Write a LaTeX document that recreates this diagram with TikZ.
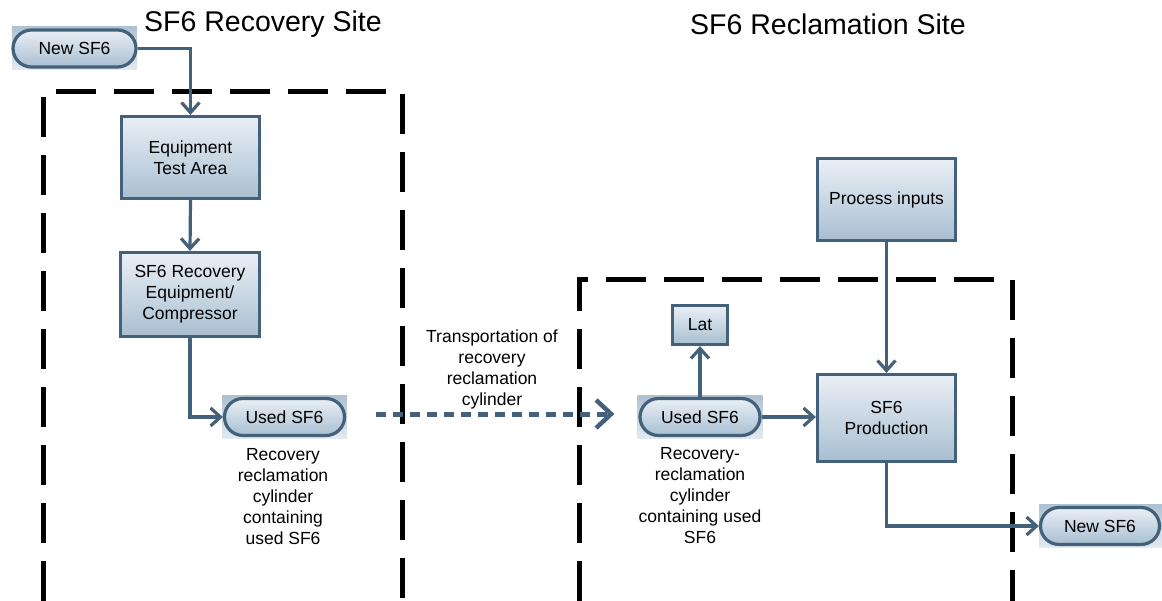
\documentclass[tikz,border=0pt]{standalone}
\usepackage{fontspec}
\setmainfont{Liberation Sans}
\usetikzlibrary{arrows.meta,shapes.misc}
\definecolor{edge}{HTML}{44617B}
\definecolor{gtop}{HTML}{EAEFF6}
\definecolor{gbot}{HTML}{A8BFD1}
\definecolor{bgtop}{HTML}{AEC2D2}
\definecolor{bgbot}{HTML}{E3EAF1}
\newcommand{\boxfont}{\fontsize{17.5bp}{21bp}\selectfont}
\newcommand{\titlefont}{\fontsize{28.5bp}{32bp}\selectfont}
\tikzset{
  proc/.style={draw=edge, line width=3.2bp, top color=gtop, bottom color=gbot,
    inner sep=0pt, align=center, font=\boxfont, text=black},
  term/.style={rounded rectangle, draw=edge, line width=3.2bp, top color=gtop, bottom color=gbot,
    inner sep=0pt, align=center, font=\boxfont, minimum width=120bp, minimum height=37bp},
  termbg/.style={rectangle, top color=bgtop, bottom color=bgbot, inner sep=0pt,
    minimum width=125bp, minimum height=43bp},
  conn/.style={draw=edge, line width=3.2bp, -{Straight Barb[length=10bp,width=18bp]}},
  trans/.style={draw=edge, line width=5bp, dash pattern=on 10bp off 7bp,
    -{Straight Barb[length=15bp,width=28bp,line width=4.5bp]}},
  site/.style={draw=black, line width=5bp, dash pattern=on 40bp off 18bp},
  lbl/.style={align=center, font=\boxfont, inner sep=0pt},
  ttl/.style={font=\titlefont, inner sep=0pt}
}
\begin{document}
\begin{tikzpicture}[x=1bp,y=-1bp]
\useasboundingbox (0,0) rectangle (1162,601);
% site frames
\draw[site] (43,601) -- (43,92) -- (402,92) -- (402,601);
\draw[site] (579,601) -- (579,280) -- (1012,280) -- (1012,601);
% titles
\node[ttl] (t1) at (263,24) {SF6 Recovery Site};
\node[ttl] (t2) at (828,24) {SF6 Reclamation Site};
% terminal backgrounds
\node[termbg] (b1) at (74.5,48.5) {};
\node[termbg] (b2) at (284.5,417) {};
\node[termbg] (b3) at (700,417) {};
\node[termbg, minimum width=123bp] (b4) at (1100.5,526) {};
% terminals
\node[term, minimum width=123bp] (new1) at (74.5,48.5) {New SF6};
\node[term] (used1) at (284.5,417) {Used SF6};
\node[term] (used2) at (700,417) {Used SF6};
\node[term, minimum width=119bp] (new2) at (1100,526) {New SF6};
% process boxes
\node[proc, minimum width=138bp, minimum height=82bp] (eta) at (190.5,157.5) {Equipment\\Test Area};
\node[proc, minimum width=139bp, minimum height=84bp] (sfr) at (190,294.5) {SF6 Recovery\\Equipment/\\Compressor};
\node[proc, minimum width=138bp, minimum height=82bp] (pin) at (886.5,199.5) {Process inputs};
\node[proc, minimum width=138bp, minimum height=87bp] (prod) at (886.5,418) {SF6\\Production};
\node[proc, minimum width=55bp, minimum height=39bp] (lat) at (700,325) {Lat};
% labels
\node[lbl] (l1) at (283,496.5) {Recovery\\reclamation\\cylinder\\containing\\used SF6};
\node[lbl] (l2) at (700,495.5) {Recovery-\\reclamation\\cylinder\\containing used\\SF6};
\node[lbl] (l3) at (492,369.5) {Transportation of\\recovery\\reclamation\\cylinder};
% connectors
\draw[conn] (new1.east) -| (eta.north);
\draw[conn] (eta.south) -- (sfr.north);
\draw[conn] (sfr.south) |- (used1.west);
\draw[trans] ([xshift=30bp,yshift=3bp]used1.east) -- ([xshift=-24bp,yshift=3bp]used2.west);
\draw[conn] (used2.north) -- (lat.south);
\draw[conn] (used2.east) -- (used2.east -| prod.west);
\draw[conn] (pin.south) -- (prod.north);
\draw[conn] (prod.south) |- (new2.west);
\end{tikzpicture}
\end{document}
